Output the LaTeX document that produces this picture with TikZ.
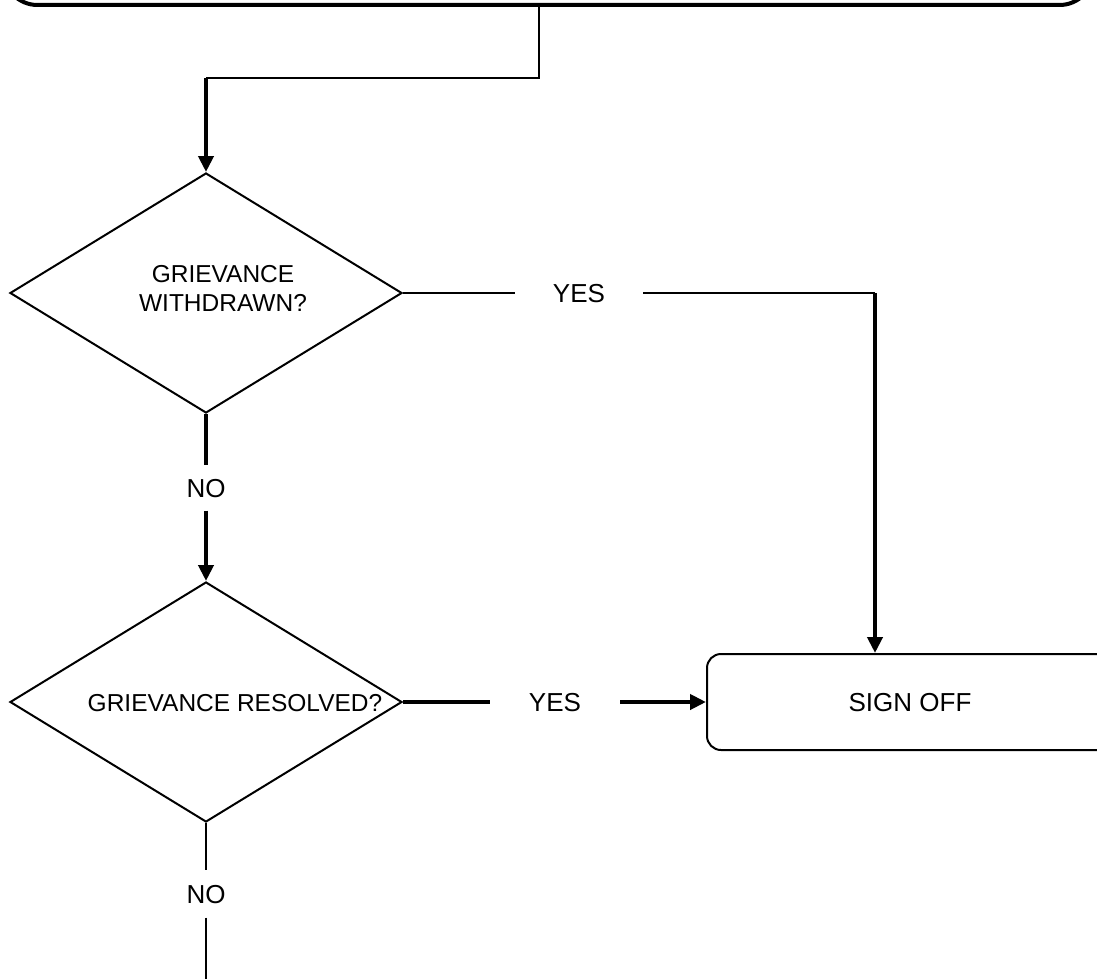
\documentclass[tikz,border=0pt]{standalone}
\usepackage{fontspec}
\setmainfont{Liberation Sans}
\usetikzlibrary{shapes.geometric,arrows.meta}
\tikzset{
  thinline/.style={line width=1.8pt},
  thickline/.style={line width=4pt},
  arr/.style={-{Triangle[length=16pt,width=15pt]}},
  dec/.style={draw, diamond, line width=2pt, inner sep=0pt, aspect=1.625,
              minimum width=392pt, minimum height=240pt},
  dectext/.style={align=center, font=\fontsize{24.5}{29}\selectfont},
  lbl/.style={text height=19pt, text depth=0pt},
}
\begin{document}
\begin{tikzpicture}[x=1pt,y=-1pt,font=\fontsize{26}{30}\selectfont]
\useasboundingbox (0,0) rectangle (1097,979);
% top box (cut off)
\node[draw, line width=4pt, rounded corners=34pt, minimum width=1090pt,
      minimum height=120pt, anchor=south, inner sep=0pt] (top) at (548.5,7) {};
% decisions
\node[dec] (d1) at (206,293) {};
\node[dectext] (d1t) at (223,288) {GRIEVANCE\\WITHDRAWN?};
\node[dec] (d2) at (206,702) {};
\node[dectext] (d2t) at (235,703) {GRIEVANCE RESOLVED?};
% sign off box (cut off on right)
\node[draw, line width=2pt, rounded corners=14pt, minimum width=430pt,
      minimum height=96pt, inner sep=0pt] (so) at (922,702) {};
\node (sotext) at (910,703) {SIGN OFF};
% labels
\node[lbl, inner xsep=38pt, inner ysep=0pt] (yes1) at (579,293) {YES};
\node[lbl, inner xsep=39pt, inner ysep=0pt] (yes2) at (555,702) {YES};
\node[lbl, inner xsep=0pt, inner ysep=13pt] (no1) at (206,488) {NO};
\node[lbl, inner xsep=0pt, inner ysep=14pt] (no2) at (206,894) {NO};
% coordinates
\coordinate (c0) at (539,78);
\coordinate (c0b) at (206,78);
\coordinate (c1) at (875,293);
\coordinate (bot) at (206,979);
% connectors
\draw[thinline] (top.south -| c0) -- (c0) -- (c0b);
\draw[thickline, arr] (c0b) -- (d1.north);
\draw[thinline] (d1.east) -- (yes1.west);
\draw[thinline] (yes1.east) -- (c1);
\draw[thickline, arr] (c1) -- (c1 |- so.north);
\draw[thickline] (d1.south) -- (no1.north);
\draw[thickline, arr] (no1.south) -- (d2.north);
\draw[thickline] (d2.east) -- (yes2.west);
\draw[thickline, arr] (yes2.east) -- (so.west);
\draw[thinline] (d2.south) -- (no2.north);
\draw[thinline] (no2.south) -- (bot);
\end{tikzpicture}
\end{document}
